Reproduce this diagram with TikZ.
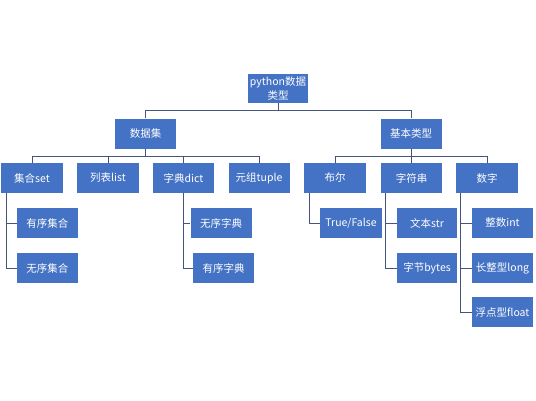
\documentclass[tikz,border=0pt]{standalone}
\usepackage{fontspec}
\setmainfont{Noto Sans CJK SC}
\definecolor{boxblue}{HTML}{4472C4}
\definecolor{linegray}{HTML}{44547A}
\tikzset{every picture/.style={line width=0.9pt}}

\begin{document}
\begin{tikzpicture}[x=1pt, y=-1pt,
    every node/.style={font=\fontsize{10.5}{12.5}\selectfont},
    tbox/.style={rectangle, fill=boxblue, text=white, inner sep=0pt,
      minimum width=61pt, minimum height=30pt, align=center},
    conn/.style={draw=linegray}]
        \useasboundingbox (0,0) rectangle (536,400);
        % raiz
        \node[tbox, minimum width=60pt, minimum height=29pt] (root) at (278, 88.5) {python数据\\[1pt]类型};
        % primeiro nível
        \node[tbox] (dsj) at (145.5, 133.5) {数据集};
        \node[tbox] (jblx) at (411, 133.5) {基本类型};
        % segundo nível
        \node[tbox, minimum width=62pt] (set) at (32, 178) {集合set};
        \node[tbox, minimum width=62pt] (list) at (108, 178) {列表list};
        \node[tbox] (dict) at (183.5, 178) {字典dict};
        \node[tbox] (tuple) at (259, 178) {元组tuple};
        \node[tbox, minimum width=62pt] (bool) at (335, 178) {布尔};
        \node[tbox] (str) at (411.5, 178) {字符串};
        \node[tbox, minimum width=62pt] (num) at (487, 178) {数字};
        % terceiro nível
        \node[tbox] (yxjh) at (47.5, 223) {有序集合};
        \node[tbox] (wxjh) at (47.5, 268) {无序集合};
        \node[tbox] (wxzd) at (221, 223) {无序字典};
        \node[tbox] (yxzd) at (223.5, 268) {有序字典};
        \node[tbox, minimum width=62pt] (tf) at (351, 223) {True/False};
        \node[tbox, minimum width=60pt] (wb) at (427, 223) {文本str};
        \node[tbox, minimum width=60pt] (zj) at (427, 268) {字节bytes};
        \node[tbox] (zs) at (502.5, 223) {整数int};
        \node[tbox] (czx) at (502.5, 268) {长整型long};
        \node[tbox] (fdx) at (502.5, 312) {浮点型float};
        % ligações
        \draw[conn] (root.south) -- ++(0,7) -| (dsj.north);
        \draw[conn] (root.south) -- ++(0,7) -| (jblx.north);
        \foreach \c in {set, list, dict, tuple}
          \draw[conn] (dsj.south) -- ++(0,7) -| (\c.north);
        \foreach \c in {bool, str, num}
          \draw[conn] (jblx.south) -- ++(0,7) -| (\c.north);
        \draw[conn] ([xshift=6pt]set.south west) |- (yxjh.west);
        \draw[conn] ([xshift=6pt]set.south west) |- (wxjh.west);
        \draw[conn] (dict.south) |- (wxzd.west);
        \draw[conn] (dict.south) |- (yxzd.west);
        \draw[conn] ([xshift=6pt]bool.south west) |- (tf.west);
        \draw[conn] ([xshift=5pt]str.south west) |- (wb.west);
        \draw[conn] ([xshift=5pt]str.south west) |- (zj.west);
        \draw[conn] ([xshift=5pt]num.south west) |- (zs.west);
        \draw[conn] ([xshift=5pt]num.south west) |- (czx.west);
        \draw[conn] ([xshift=5pt]num.south west) |- (fdx.west);
    \end{tikzpicture}
\end{document}
